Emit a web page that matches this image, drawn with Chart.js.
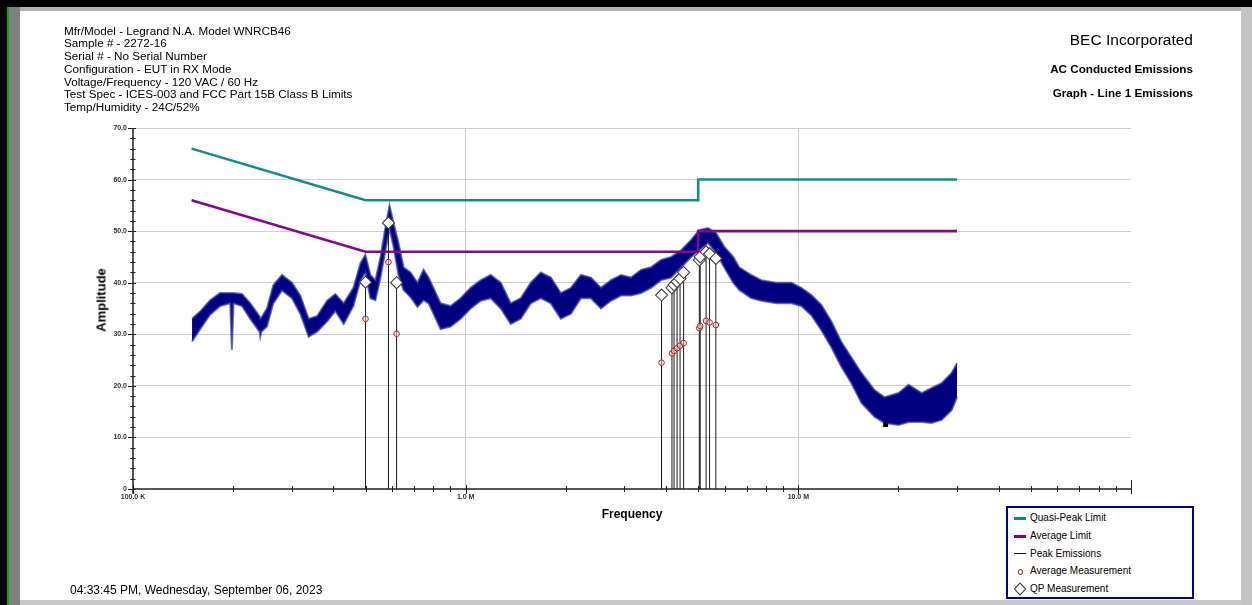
<!DOCTYPE html>
<html><head><meta charset="utf-8">
<script src="https://cdn.jsdelivr.net/npm/chart.js@4.4.1/dist/chart.umd.min.js"></script>
<style>
html,body{margin:0;padding:0;background:#fff;width:1252px;height:605px;overflow:hidden;font-family:"Liberation Sans",Arial,sans-serif;color:#000;}
#c{position:absolute;left:0;top:0;}
.blk{position:absolute;}
.hdr{position:absolute;left:64px;top:24.5px;font-size:11.7px;line-height:12.8px;white-space:pre;}
.rt{position:absolute;right:59px;text-align:right;white-space:nowrap;}
.lg{position:absolute;left:1006px;top:506px;width:184px;height:89px;border:2px solid #00008b;background:#fff;}
.li{position:absolute;left:22px;font-size:10px;line-height:12px;white-space:nowrap;}
.sw{position:absolute;}
</style></head>
<body>
<canvas id="c" width="1252" height="605"></canvas>
<div class="blk" style="left:0;top:0;width:1252px;height:7px;background:#000"></div>
<div class="blk" style="left:0;top:0;width:7px;height:605px;background:#000"></div>
<div class="blk" style="left:7px;top:7px;width:2px;height:598px;background:#00b000"></div>
<div class="blk" style="left:9px;top:7px;width:11px;height:598px;background:#808080"></div>
<div class="blk" style="left:20px;top:7px;width:1221px;height:4px;background:#b0b0b0"></div>
<div class="blk" style="left:1241px;top:7px;width:11px;height:598px;background:#c4c4c4"></div>
<div class="blk" style="left:20px;top:600px;width:1221px;height:5px;background:#c8c8c8"></div>

<div class="hdr">Mfr/Model - Legrand N.A. Model WNRCB46
Sample # - 2272-16
Serial # - No Serial Number
Configuration - EUT in RX Mode
Voltage/Frequency - 120 VAC / 60 Hz
Test Spec - ICES-003 and FCC Part 15B Class B Limits
Temp/Humidity - 24C/52%</div>

<div class="rt" style="top:31px;font-size:15.5px;">BEC Incorporated</div>
<div class="rt" style="top:62px;font-size:11.7px;font-weight:bold;">AC Conducted Emissions</div>
<div class="rt" style="top:86px;font-size:11.7px;font-weight:bold;">Graph - Line 1 Emissions</div>

<div style="position:absolute;left:101px;top:300px;transform:translate(-50%,-50%) rotate(-90deg);font-size:13px;font-weight:bold;white-space:nowrap;">Amplitude</div>
<div style="position:absolute;left:632px;top:514px;transform:translate(-50%,-50%);font-size:12px;font-weight:bold;white-space:nowrap;">Frequency</div>
<div style="position:absolute;left:70px;top:583px;font-size:12px;white-space:nowrap;">04:33:45 PM, Wednesday, September 06, 2023</div>

<div class="lg">
  <div class="sw" style="left:6px;top:9px;width:12px;height:3px;background:#008b8b"></div>
  <div class="li" style="top:4px">Quasi-Peak Limit</div>
  <div class="sw" style="left:6px;top:27px;width:12px;height:3px;background:#800080"></div>
  <div class="li" style="top:22px">Average Limit</div>
  <div class="sw" style="left:6px;top:45px;width:12px;height:1px;background:#000080"></div>
  <div class="li" style="top:40px">Peak Emissions</div>
  <div class="sw" style="left:10px;top:61px;width:3px;height:4px;border:1px solid #b03030;border-radius:50%"></div>
  <div class="li" style="top:57px">Average Measurement</div>
  <svg class="sw" style="left:5px;top:74px" width="14" height="14"><polygon points="7,1 12.5,7 7,13 1.5,7" fill="#fff" stroke="#303030" stroke-width="1.1"/></svg>
  <div class="li" style="top:75px">QP Measurement</div>
</div>

<script>
// ---------- DATA ----------
const peakFreqMHz = [0.1505,0.1591,0.1705,0.1828,0.1960,0.1983,0.2005,0.2126,0.2252,0.2400,0.2413,0.2430,0.2528,0.2641,0.2805,0.3006,0.3184,0.3373,0.3575,0.3832,0.4058,0.4299,0.4599,0.4828,0.4995,0.5172,0.5355,0.5546,0.5741,0.5903,0.6068,0.6283,0.6505,0.6827,0.7166,0.7470,0.7738,0.8408,0.9012,0.9658,1.035,1.110,1.189,1.275,1.366,1.464,1.569,1.682,1.803,1.932,2.072,2.220,2.380,2.551,2.734,2.931,3.141,3.367,3.608,3.867,4.146,4.443,4.762,5.031,5.356,5.662,5.985,6.372,6.643,7.218,7.737,8.585,9.527,10.21,10.94,11.73,12.57,13.47,14.44,15.48,16.94,18.16,20.01,21.45,23.48,25.16,26.96,28.90,30.0];
const peakHigh = [33.0,34.4,36.6,38.0,38.0,38.0,38.0,37.8,36.0,33.5,33.0,33.2,35.0,39.5,41.5,40.0,37.5,33.0,33.5,36.5,37.8,36.0,39.0,43.8,45.4,41.5,40.5,45.0,50.8,55.0,51.6,47.7,43.0,42.0,40.0,42.5,41.0,36.0,35.5,37.0,39.0,40.5,41.5,40.0,36.0,37.0,40.0,42.0,41.0,38.0,39.0,41.5,41.0,39.0,40.5,41.5,41.0,42.5,43.0,44.4,45.0,46.3,48.3,50.2,50.6,49.6,47.0,45.0,43.0,41.5,40.5,40.0,40.0,39.0,37.6,35.7,32.5,28.5,25.5,22.5,19.2,17.8,18.6,20.2,18.6,19.6,20.5,22.5,24.4];
const peakLow  = [28.6,31.0,33.8,35.5,36.0,27.0,36.0,35.5,33.0,30.5,29.5,30.5,31.5,36.0,38.5,37.0,34.0,29.5,30.5,32.5,34.5,32.0,35.5,40.5,42.0,37.0,36.6,41.0,46.3,50.5,47.0,41.5,38.6,37.2,35.3,36.6,36.0,31.0,31.5,33.0,35.0,36.5,37.0,35.0,32.0,33.0,36.0,37.0,36.0,33.0,34.0,37.0,37.0,35.0,36.5,37.5,37.5,38.0,39.0,40.5,41.0,43.0,45.0,46.3,47.7,45.8,43.0,40.0,38.6,37.0,36.5,36.0,36.0,35.5,33.7,30.8,27.5,23.7,20.5,16.7,14.0,12.8,12.4,13.0,13.0,12.8,13.4,15.3,17.8];

const qpLimitFreqMHz  = [0.15,0.5,5,5,30];
const qpLimitValues   = [66,56,56,60,60];
const avgLimitFreqMHz = [0.15,0.5,5,5,30];
const avgLimitValues  = [56,46,46,50,50];

const measFreqMHz = [0.500,0.586,0.620,3.88,4.17,4.23,4.32,4.41,4.52,5.04,5.07,5.28,5.41,5.65];
const qpValues    = [40.1,51.6,40.0,37.6,39.0,39.6,40.2,40.8,42.0,44.4,45.0,46.0,45.6,44.7];
const avgValues   = [33.0,44.0,30.1,24.5,26.3,26.8,27.3,27.8,28.3,31.2,31.6,32.6,32.3,31.8];

const cursorFreqMHz = [18.3];
const cursorValues  = [12.5];

const yTickValues = [0,2,4,6,8,10,12,14,16,18,20,22,24,26,28,30,32,34,36,38,40,42,44,46,48,50,52,54,56,58,60,62,64,66,68,70];
const yLabelValues = [0,10,20,30,40,50,60,70];
const yLabelTexts  = ['0','10.0','20.0','30.0','40.0','50.0','60.0','70.0'];
const xTickValues = [1e5,2e5,3e5,4e5,5e5,6e5,7e5,8e5,9e5,1e6,2e6,3e6,4e6,5e6,6e6,7e6,8e6,9e6,1e7,2e7,3e7,4e7,5e7,6e7,7e7,8e7,9e7,1e8];
const xLabelValues = [1e5,1e6,1e7];
const xLabelTexts  = ['100.0 K','1.0 M','10.0 M'];
const xGridValues  = [1e6,1e7];

// ---------- BUILD ----------
const MHz = 1e6;
const pts = (fs, vs) => fs.map((f,i)=>({x:f*MHz, y:vs[i]}));
const vlineData = [];
measFreqMHz.forEach((f,i)=>{ vlineData.push({x:f*MHz,y:0},{x:f*MHz,y:qpValues[i]},{x:f*MHz,y:null}); });
const near = (a,b)=>Math.abs(a-b) < 1e-6*Math.max(Math.abs(a),Math.abs(b),1);

const axesPlugin = {
  id:'axesTicks',
  afterDraw(chart){
    const {ctx, chartArea:{left,right,top,bottom}, scales:{x,y}} = chart;
    ctx.save();
    ctx.strokeStyle='#202020';
    ctx.lineWidth=1.5;
    ctx.beginPath(); ctx.moveTo(left, top); ctx.lineTo(left, bottom+5); ctx.stroke();
    ctx.beginPath(); ctx.moveTo(left, bottom); ctx.lineTo(right, bottom); ctx.stroke();
    ctx.lineWidth=1;
    y.ticks.forEach(t=>{
      const py=Math.round(y.getPixelForValue(t.value))+0.5;
      const major = yLabelValues.some(v=>near(v,t.value));
      ctx.beginPath(); ctx.moveTo(left-(major?5:2.5), py); ctx.lineTo(left+(major?3:2.5), py); ctx.stroke();
    });
    x.ticks.forEach((t,i)=>{
      const px=Math.round(x.getPixelForValue(t.value))+0.5;
      const decade = xLabelValues.some(v=>near(v,t.value));
      const last = i===x.ticks.length-1;
      ctx.beginPath();
      ctx.moveTo(px, bottom-(last?9:(decade?4:3)));
      ctx.lineTo(px, bottom+(decade||last?5:3));
      ctx.stroke();
    });
    ctx.restore();
  }
};

new Chart(document.getElementById('c'), {
  type:'line',
  data:{datasets:[
    {label:'Peak Emissions', data:pts(peakFreqMHz,peakHigh), borderColor:'rgba(45,55,165,0.7)', borderWidth:2, pointRadius:0, tension:0, order:10},
    {label:'Peak Emissions low', data:pts(peakFreqMHz,peakLow), borderColor:'rgba(45,55,165,0.7)', borderWidth:2, pointRadius:0, tension:0, fill:'-1', backgroundColor:'#000080', order:11},
    {label:'Quasi-Peak Limit', data:pts(qpLimitFreqMHz,qpLimitValues), borderColor:'#128b8b', borderWidth:2.6, pointRadius:0, tension:0, order:5},
    {label:'Average Limit', data:pts(avgLimitFreqMHz,avgLimitValues), borderColor:'#820a86', borderWidth:2.6, pointRadius:0, tension:0, order:6},
    {label:'Markers', data:vlineData, borderColor:'#1a1a1a', borderWidth:1, pointRadius:0, spanGaps:false, order:4},
    {label:'Average Measurement', data:pts(measFreqMHz,avgValues), showLine:false, pointStyle:'circle', pointRadius:2.8, pointBorderWidth:1, pointBorderColor:'#a82828', pointBackgroundColor:'rgba(255,220,220,0.5)', order:2},
    {label:'QP Measurement', data:pts(measFreqMHz,qpValues), showLine:false, pointStyle:'rectRot', pointRadius:6, pointBorderWidth:1.1, pointBorderColor:'#404040', pointBackgroundColor:'#ffffff', order:1},
    {label:'Cursor', data:pts(cursorFreqMHz,cursorValues), showLine:false, pointStyle:'rect', pointRadius:3.5, pointBorderWidth:0, pointBackgroundColor:'#000', order:3}
  ]},
  options:{
    responsive:false, animation:false, events:[],
    layout:{padding:{top:128,right:121,bottom:96,left:0}},
    plugins:{legend:{display:false}, tooltip:{enabled:false}},
    scales:{
      x:{type:'logarithmic', min:1e5, max:1e8,
        afterBuildTicks:s=>{ s.ticks = xTickValues.map(v=>({value:v})); },
        afterFit:s=>{ s.height=20; },
        border:{display:false},
        grid:{drawTicks:false, lineWidth:1, color:c=> (c.tick && xGridValues.some(v=>near(v,c.tick.value))) ? '#cfcfcf' : 'rgba(0,0,0,0)'},
        ticks:{autoSkip:false, maxRotation:0, padding:4, color:'#303030', font:{family:'"Liberation Sans", Arial, sans-serif', size:7, weight:'bold'},
          callback:(v)=>{ const i = xLabelValues.findIndex(t=>near(t,v)); return i>=0 ? xLabelTexts[i] : ''; }}
      },
      y:{type:'linear', min:0, max:70,
        afterBuildTicks:s=>{ s.ticks = yTickValues.map(v=>({value:v})); },
        afterFit:s=>{ s.width=133; },
        border:{display:false},
        grid:{drawTicks:false, lineWidth:1, color:c=> (c.tick && c.tick.value>0 && yLabelValues.some(v=>near(v,c.tick.value))) ? '#cfcfcf' : 'rgba(0,0,0,0)'},
        ticks:{autoSkip:false, padding:6, color:'#303030', font:{family:'"Liberation Sans", Arial, sans-serif', size:7, weight:'bold'},
          callback:(v)=>{ const i = yLabelValues.findIndex(t=>near(t,v)); return i>=0 ? yLabelTexts[i] : ''; }}
      }
    }
  },
  plugins:[axesPlugin]
});
</script>
</body></html>
